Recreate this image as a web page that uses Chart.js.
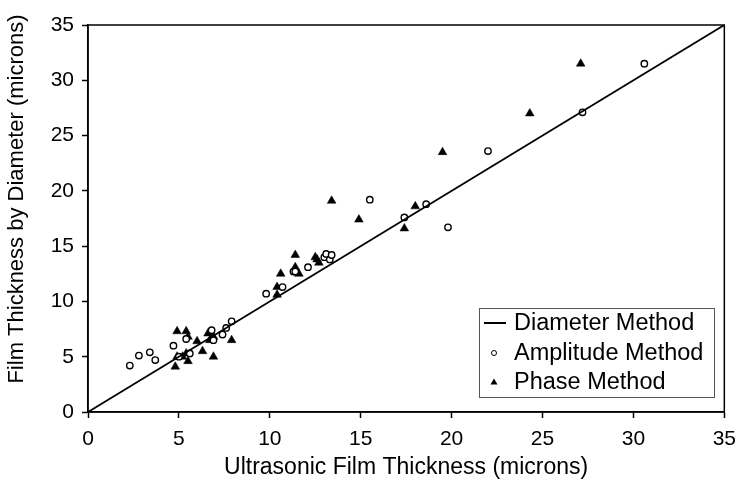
<!DOCTYPE html>
<html>
<head>
<meta charset="utf-8">
<script src="https://cdn.jsdelivr.net/npm/chart.js@4.4.0/dist/chart.umd.min.js"></script>
<style>
    body { margin: 0; background: #fff; }
    #wrap { width: 745px; height: 481px; }
</style>
</head>
<body>
<div id="wrap"><canvas id="grafico"></canvas></div>
<script>
// valores (micrômetros)
const amplitudeX = [2.3, 2.8, 3.4, 3.7, 4.7, 5.4, 5.6, 5.0, 6.8, 6.9, 7.4, 7.9, 7.6, 9.8, 10.7, 11.3, 11.4, 12.1, 13.0, 13.1, 13.3, 13.4, 15.5, 17.4, 18.6, 19.8, 22.0, 27.2, 30.6]
const amplitudeY = [4.2, 5.1, 5.4, 4.7, 6.0, 6.6, 5.3, 5.0, 7.4, 6.5, 7.0, 8.2, 7.6, 10.7, 11.3, 12.7, 12.7, 13.1, 14.0, 14.3, 13.8, 14.2, 19.2, 17.6, 18.8, 16.7, 23.6, 27.1, 31.5]

const phaseX = [4.9, 5.4, 5.5, 6.0, 4.8, 5.5, 6.3, 6.9, 6.7, 6.9, 7.9, 4.9, 5.2, 5.4, 6.6, 10.4, 10.4, 10.6, 11.4, 11.6, 11.4, 12.5, 12.6, 12.7, 13.4, 14.9, 17.4, 18.0, 19.5, 24.3, 27.1]
const phaseY = [7.3, 7.3, 6.8, 6.4, 4.1, 4.6, 5.5, 5.0, 6.5, 6.8, 6.5, 5.0, 5.0, 5.3, 7.1, 10.6, 11.3, 12.5, 13.1, 12.5, 14.2, 14.0, 13.8, 13.5, 19.1, 17.4, 16.6, 18.6, 23.5, 27.0, 31.5]

const diameterX = [0, 35]
const diameterY = [0, 35]

const xTicks = [0, 5, 10, 15, 20, 25, 30, 35]
const yTicks = [0, 5, 10, 15, 20, 25, 30, 35]

const tituloX = 'Ultrasonic Film Thickness (microns)'
const tituloY = 'Film Thickness by Diameter (microns)'

const pares = (xs, ys) => xs.map((x, i) => ({ x: x, y: ys[i] }))

const fonte = "'Liberation Sans', Arial, sans-serif"

// moldura, titulo do eixo Y e legenda dentro da área do gráfico
const molduraLegenda = {
    id: 'molduraLegenda',
    afterDraw(chart) {
        const ctx = chart.ctx
        const a = chart.chartArea
        ctx.save()
        ctx.strokeStyle = '#000'
        ctx.lineWidth = 1.5
        ctx.strokeRect(a.left, a.top, a.right - a.left, a.bottom - a.top)

        // titulo do eixo Y (deslocado para cima como no original)
        ctx.save()
        ctx.translate(17, 199)
        ctx.rotate(-Math.PI / 2)
        ctx.font = '22px ' + fonte
        ctx.fillStyle = '#000'
        ctx.textAlign = 'center'
        ctx.textBaseline = 'middle'
        ctx.fillText(tituloY, 0, 0)
        ctx.restore()

        const bx = 479, by = 308, bw = 235, bh = 89
        ctx.fillStyle = '#fff'
        ctx.fillRect(bx, by, bw, bh)
        ctx.strokeStyle = '#555'
        ctx.lineWidth = 1
        ctx.strokeRect(bx + 0.5, by + 0.5, bw, bh)

        ctx.font = '23.5px ' + fonte
        ctx.textBaseline = 'middle'
        ctx.fillStyle = '#000'
        const linhas = [
            { label: chart.data.datasets[0].label, y: 323, tipo: 'linha' },
            { label: chart.data.datasets[1].label, y: 353, tipo: 'circulo' },
            { label: chart.data.datasets[2].label, y: 382, tipo: 'triangulo' }
        ]
        linhas.forEach(l => {
            ctx.strokeStyle = '#000'
            if (l.tipo === 'linha') {
                ctx.lineWidth = 2
                ctx.beginPath()
                ctx.moveTo(484, l.y)
                ctx.lineTo(506, l.y)
                ctx.stroke()
            } else if (l.tipo === 'circulo') {
                ctx.lineWidth = 1
                ctx.beginPath()
                ctx.arc(494, l.y, 2.5, 0, Math.PI * 2)
                ctx.stroke()
            } else {
                ctx.beginPath()
                ctx.moveTo(494, l.y - 3.5)
                ctx.lineTo(497.5, l.y + 2.5)
                ctx.lineTo(490.5, l.y + 2.5)
                ctx.closePath()
                ctx.fill()
            }
            ctx.fillText(l.label, 514, l.y + 1)
        })
        ctx.restore()
    }
}

const meuGrafico = new Chart(document.getElementById('grafico'), {
    type: 'scatter',
    data: {
        datasets: [
            {
                label: 'Diameter Method',
                type: 'line',
                data: pares(diameterX, diameterY),
                borderColor: '#000',
                borderWidth: 1.8,
                pointRadius: 0,
                fill: false
            },
            {
                label: 'Amplitude Method',
                data: pares(amplitudeX, amplitudeY),
                pointStyle: 'circle',
                pointRadius: 3.2,
                backgroundColor: '#fff',
                borderColor: '#000',
                borderWidth: 1.4
            },
            {
                label: 'Phase Method',
                data: pares(phaseX, phaseY),
                pointStyle: 'triangle',
                pointRadius: 5,
                backgroundColor: '#000',
                borderColor: '#000',
                borderWidth: 0.5
            }
        ]
    },
    options: {
        responsive: true,
        maintainAspectRatio: false,
        animation: false,
        layout: { padding: { top: 25, right: 16, left: 0, bottom: 0 } },
        plugins: {
            legend: { display: false },
            tooltip: { enabled: false }
        },
        scales: {
            x: {
                type: 'linear',
                min: 0,
                max: 35,
                afterBuildTicks: scale => { scale.ticks = xTicks.map(v => ({ value: v })) },
                afterFit: scale => { scale.height = 69 },
                grid: { display: true, drawOnChartArea: false, drawTicks: true, tickLength: 6, color: '#000', tickWidth: 1.5 },
                border: { display: true, color: '#000', width: 1.5 },
                ticks: { color: '#000', font: { family: fonte, size: 21 }, padding: 9, maxRotation: 0 },
                title: {
                    display: true,
                    text: tituloX,
                    color: '#000',
                    font: { family: fonte, size: 23 },
                    padding: { top: 0, bottom: 0 }
                }
            },
            y: {
                type: 'linear',
                min: 0,
                max: 35,
                afterBuildTicks: scale => { scale.ticks = yTicks.map(v => ({ value: v })) },
                afterFit: scale => { scale.width = 88 },
                grid: { display: true, drawOnChartArea: false, drawTicks: true, tickLength: 6, color: '#000', tickWidth: 1.5 },
                border: { display: true, color: '#000', width: 1.5 },
                ticks: { color: '#000', font: { family: fonte, size: 21 }, padding: 8 }
            }
        }
    },
    plugins: [molduraLegenda]
})
</script>
</body>
</html>
